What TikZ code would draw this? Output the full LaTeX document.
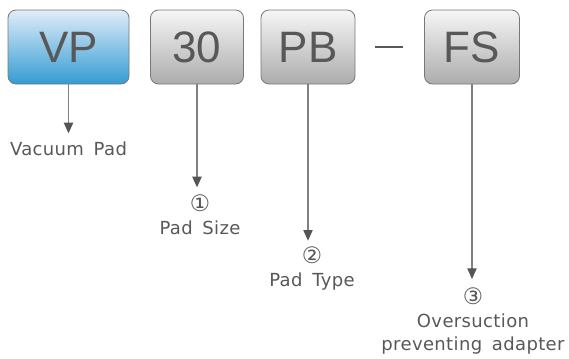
\documentclass[tikz,border=0pt]{standalone}
\usepackage{fontspec}
\setmainfont{DejaVu Sans}
\newfontfamily\boxfont{Liberation Sans}
\newfontfamily\capfont[LetterSpace=2,WordSpace=1.6]{DejaVu Sans}
\usetikzlibrary{arrows.meta}
\usepackage{xcolor}

\definecolor{txtgray}{RGB}{88,88,88}
\definecolor{linegray}{RGB}{128,128,128}
\definecolor{tipgray}{RGB}{85,85,85}
\definecolor{bluetop}{RGB}{224,237,248}
\definecolor{bluebot}{RGB}{52,156,212}
\definecolor{graytop}{RGB}{246,246,246}
\definecolor{graybot}{RGB}{172,172,172}

\newcommand{\circnum}[1]{{\fontsize{17}{17.5}\selectfont #1}}

\tikzset{
  codebox/.style={draw={rgb,255:red,120;green,120;blue,120}, line width=0.6pt, rounded corners=6pt,
    top color=graytop, bottom color=graybot, minimum height=55.5pt,
    font=\boxfont\fontsize{33}{36}\selectfont, text=txtgray, inner sep=0pt},
  bluebox/.style={codebox, top color=bluetop, bottom color=bluebot},
  pointer/.style={draw=linegray, line width=0.8pt,
    -{Triangle[length=8pt,width=7pt,fill=tipgray,color=tipgray]}},
  caption/.style={font=\capfont\fontsize{13.5}{17.5}\selectfont, text=txtgray, align=center, inner sep=0pt}
}

\begin{document}
\begin{tikzpicture}[x=0.75pt,y=0.75pt,yscale=-1,xscale=1]
\useasboundingbox (0,0) rectangle (569,358);

% Code boxes
\node [bluebox, minimum width=90.75pt] (vp) at (68.5,47) {VP};
\node [codebox, minimum width=69.75pt] (size) at (197,47) {30};
\node [codebox, minimum width=70.5pt] (type) at (308,47) {PB};
\node [codebox, minimum width=71.25pt] (fs) at (472,47) {FS};

% Dash between PB and FS
\coordinate (dashl) at (375,47);
\coordinate (dashr) at (403,47);
\draw [draw=txtgray, line width=1.6pt] (dashl) -- (dashr);

% Captions
\node [caption, anchor=north] (vac) at (68.5,142) {Vacuum Pad};
\node [caption, anchor=north] (sizetxt) at (200,194) {\circnum{①}\\Pad Size};
\node [caption, anchor=north] (typetxt) at (312,246) {\circnum{②}\\Pad Type};
\node [caption, anchor=north] (fstxt) at (473,287) {\circnum{③}\\Oversuction\\preventing adapter};

% Pointers
\draw [pointer] (vp.south) -- ([yshift=-6.5pt]vp.south |- vac.north);
\draw [pointer] (size.south) -- ([yshift=-5pt]size.south |- sizetxt.north);
\draw [pointer] (type.south) -- ([yshift=-4pt]type.south |- typetxt.north);
\draw [pointer] (fs.south) -- ([yshift=-6pt]fs.south |- fstxt.north);

\end{tikzpicture}
\end{document}
